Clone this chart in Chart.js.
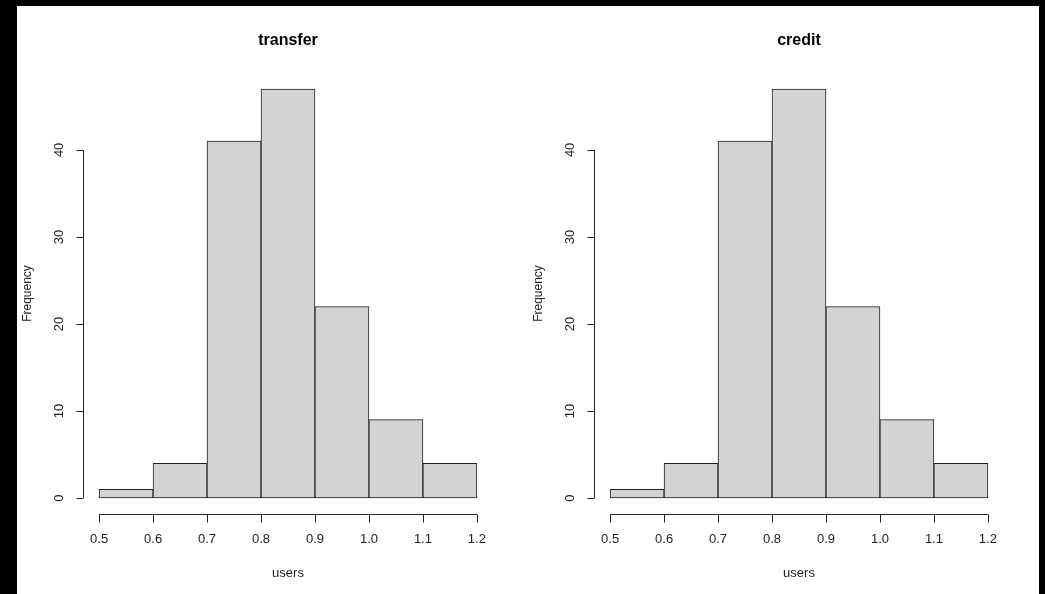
<!DOCTYPE html>
<html>
<head>
<meta charset="utf-8">
<script src="https://cdn.jsdelivr.net/npm/chart.js@4/dist/chart.umd.min.js"></script>
<style>
  html, body { margin: 0; padding: 0; background: #000; }
  body { width: 1045px; height: 594px; position: relative; overflow: hidden; }
  #page { position: absolute; left: 17px; top: 6px; width: 1022px; height: 588px; background: #fff; }
  canvas { position: absolute; top: 0; }
  #c1 { left: 0; }
  #c2 { left: 511px; }
</style>
</head>
<body>
<div id="page">
  <canvas id="c1" width="511" height="588"></canvas>
  <canvas id="c2" width="511" height="588"></canvas>
</div>
<script>
const breaks = [0.5, 0.6, 0.7, 0.8, 0.9, 1.0, 1.1, 1.2];
const transferCounts = [1, 4, 41, 47, 22, 9, 4];
const creditCounts = [1, 4, 41, 47, 22, 9, 4];
const xTickLabels = ["0.5", "0.6", "0.7", "0.8", "0.9", "1.0", "1.1", "1.2"];
const yTicks = [0, 10, 20, 30, 40];
const xTitle = "users";
const yTitle = "Frequency";

const FONT = "'Liberation Sans', Arial, sans-serif";

// R-style axes, drawn from the chart's own scales
const rAxes = {
  id: "rAxes",
  afterDraw(chart) {
    const ctx = chart.ctx;
    const xs = chart.scales.x, ys = chart.scales.y;
    const area = chart.chartArea;
    const opts = chart.options.plugins.rAxes;
    ctx.save();
    ctx.strokeStyle = "#222";
    ctx.fillStyle = "#222";
    ctx.lineWidth = 1;

    // x axis
    const xb = Math.round(area.bottom) + 0.5;
    ctx.beginPath();
    ctx.moveTo(xs.getPixelForValue(breaks[0]), xb);
    ctx.lineTo(xs.getPixelForValue(breaks[breaks.length - 1]), xb);
    breaks.forEach(b => {
      const px = Math.round(xs.getPixelForValue(b)) + 0.5;
      ctx.moveTo(px, xb);
      ctx.lineTo(px, xb + 8);
    });
    ctx.stroke();
    ctx.font = "13px " + FONT;
    ctx.textAlign = "center";
    ctx.textBaseline = "middle";
    breaks.forEach((b, i) => {
      ctx.fillText(xTickLabels[i], xs.getPixelForValue(b), xb + 25);
    });

    // y axis
    const yl = Math.round(area.left) - 0.5;
    ctx.beginPath();
    ctx.moveTo(yl, ys.getPixelForValue(yTicks[0]));
    ctx.lineTo(yl, ys.getPixelForValue(yTicks[yTicks.length - 1]));
    yTicks.forEach(t => {
      const py = Math.round(ys.getPixelForValue(t)) + 0.5;
      ctx.moveTo(yl, py);
      ctx.lineTo(yl - 7, py);
    });
    ctx.stroke();
    yTicks.forEach(t => {
      ctx.save();
      ctx.translate(yl - 24, ys.getPixelForValue(t));
      ctx.rotate(-Math.PI / 2);
      ctx.fillText(String(t), 0, 0);
      ctx.restore();
    });

    // axis titles
    const midX = (xs.getPixelForValue(breaks[0]) + xs.getPixelForValue(breaks[breaks.length - 1])) / 2;
    ctx.fillText(xTitle, midX, area.bottom + 59);
    ctx.font = "12px " + FONT;
    ctx.save();
    ctx.translate(11, (area.top + area.bottom) / 2);
    ctx.rotate(-Math.PI / 2);
    ctx.fillText(yTitle, 0, 0);
    ctx.restore();

    // main title
    ctx.fillStyle = "#000";
    ctx.font = "bold 16px " + FONT;
    ctx.fillText(opts.title, midX, 35);
    ctx.restore();
  }
};

function makeHist(id, title, counts) {
  const points = counts.map((c, i) => ({ x: (breaks[i] + breaks[i + 1]) / 2, y: c }));
  return new Chart(document.getElementById(id), {
    type: "bar",
    plugins: [rAxes],
    data: {
      datasets: [{
        data: points,
        backgroundColor: "#D3D3D3",
        borderColor: "#222",
        borderWidth: 1,
        borderSkipped: false,
        barPercentage: 1,
        categoryPercentage: 1
      }]
    },
    options: {
      responsive: false,
      devicePixelRatio: 1,
      animation: false,
      layout: { padding: { left: 67, right: 36, top: 66.6, bottom: 79.6 } },
      scales: {
        x: { type: "linear", min: 0.472, max: 1.228, offset: false, display: false },
        y: { type: "linear", min: -1.88, max: 48.88, display: false }
      },
      plugins: {
        legend: { display: false },
        tooltip: { enabled: false },
        rAxes: { title: title }
      }
    }
  });
}

makeHist("c1", "transfer", transferCounts);
makeHist("c2", "credit", creditCounts);
</script>
</body>
</html>
